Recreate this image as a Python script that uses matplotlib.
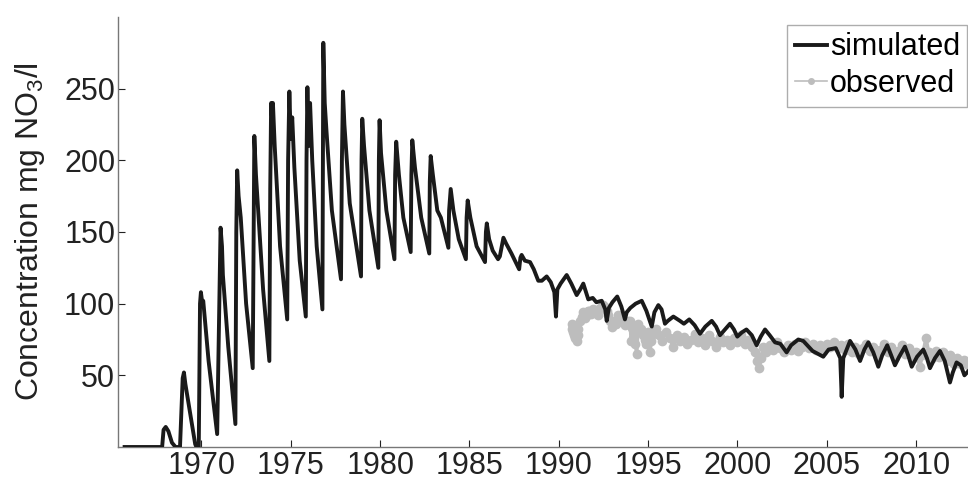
import matplotlib.pyplot as plt

plt.rcParams['font.family'] = ['Liberation Sans', 'DejaVu Sans']
plt.rcParams['mathtext.fontset'] = 'custom'
plt.rcParams['mathtext.rm'] = 'Liberation Sans'
plt.rcParams['mathtext.it'] = 'Liberation Sans'

# simulated series (year, mg NO3/l)
sim_year = [1965.7, 1967.8, 1967.88, 1968.0, 1968.15, 1968.35, 1968.55, 1968.8, 1968.95, 1969.02,
            1969.1, 1969.35, 1969.65, 1969.72, 1969.85, 1969.92, 1969.97, 1970.05, 1970.1, 1970.4,
            1970.88, 1971.0, 1971.07, 1971.15, 1971.2, 1971.5, 1971.9, 1971.95, 1972.0, 1972.08,
            1972.2, 1972.5, 1972.87, 1972.92, 1972.96, 1973.05, 1973.15, 1973.45, 1973.8, 1973.85,
            1973.9, 1973.95, 1974.0, 1974.1, 1974.4, 1974.8, 1974.85, 1974.92, 1975.0, 1975.08,
            1975.2, 1975.5, 1975.84, 1975.88, 1975.93, 1976.0, 1976.08, 1976.2, 1976.45, 1976.77,
            1976.82, 1976.9, 1977.0, 1977.3, 1977.81, 1977.86, 1977.92, 1978.0, 1978.3, 1978.93,
            1978.96, 1979.0, 1979.1, 1979.4, 1979.9, 1979.93, 1979.97, 1980.05, 1980.35, 1980.8,
            1980.84, 1980.9, 1981.05, 1981.3, 1981.71, 1981.75, 1981.8, 1981.95, 1982.3, 1982.75,
            1982.78, 1982.83, 1982.95, 1983.2, 1983.4, 1983.82, 1983.86, 1983.95, 1984.1, 1984.4,
            1984.8, 1984.84, 1984.9, 1985.05, 1985.4, 1985.87, 1985.92, 1985.97, 1986.1, 1986.3,
            1986.6, 1986.7, 1986.9, 1987.05, 1987.35, 1987.78, 1987.85, 1987.92, 1988.1, 1988.39,
            1988.6, 1988.85, 1989.05, 1989.32, 1989.55, 1989.75, 1989.84, 1989.92, 1990.1, 1990.44,
            1990.7, 1991.0, 1991.2, 1991.37, 1991.65, 1991.9, 1992.1, 1992.4, 1992.6, 1992.68,
            1992.8, 1993.0, 1993.27, 1993.5, 1993.7, 1993.8, 1994.0, 1994.3, 1994.64, 1994.9,
            1995.2, 1995.35, 1995.57, 1995.75, 1995.94, 1996.1, 1996.41, 1996.78, 1997.0, 1997.3,
            1997.6, 1997.9, 1998.2, 1998.56, 1998.8, 1999.02, 1999.3, 1999.58, 1999.8, 1999.99,
            2000.25, 2000.5, 2000.8, 2001.07, 2001.3, 2001.54, 2001.8, 2002.1, 2002.4, 2002.75,
            2003.0, 2003.4, 2003.68, 2004.2, 2004.8, 2005.1, 2005.5, 2005.75, 2005.83, 2005.92,
            2006.3, 2006.6, 2006.86, 2007.1, 2007.32, 2007.6, 2007.88, 2008.1, 2008.38, 2008.6,
            2008.81, 2009.05, 2009.37, 2009.55, 2009.75, 2010.05, 2010.4, 2010.6, 2010.77, 2011.05,
            2011.33, 2011.6, 2011.89, 2012.05, 2012.26, 2012.5, 2012.7, 2013.0]
sim_val = [0, 0, 12, 14, 11, 3, 0, 0, 48, 52,
           44, 25, 2, 0, 0, 100, 108, 100, 102, 60,
           9, 100, 153, 140, 120, 70, 16, 150, 193, 175,
           160, 100, 55, 150, 217, 190, 170, 110, 60, 180,
           240, 230, 240, 210, 140, 89, 200, 248, 215, 230,
           195, 130, 91, 200, 251, 210, 240, 200, 140, 96,
           282, 240, 220, 165, 117, 200, 248, 225, 170, 119,
           200, 229, 210, 165, 125, 200, 228, 205, 165, 131,
           190, 213, 190, 160, 136, 190, 214, 195, 160, 135,
           185, 203, 190, 165, 160, 139, 165, 180, 165, 145,
           131, 160, 172, 160, 140, 129, 150, 156, 145, 137,
           131, 133, 146, 142, 135, 124, 132, 134, 130, 129,
           124, 116, 116, 119, 115, 108, 91, 110, 114, 120,
           114, 106, 110, 114, 103, 104, 101, 102, 96, 88,
           97, 101, 105, 98, 89, 94, 97, 100, 102, 95,
           84, 94, 99, 96, 86, 88, 91, 88, 86, 89,
           85, 79, 84, 88, 84, 78, 82, 86, 82, 77,
           80, 82, 78, 71, 77, 82, 78, 73, 72, 66,
           71, 75, 74, 67, 63, 68, 69, 62, 35, 62,
           74, 68, 60, 68, 73, 66, 56, 64, 71, 64,
           57, 63, 70, 64, 56, 63, 68, 62, 55, 62,
           67, 60, 45, 52, 59, 57, 50, 54]

# observed series
obs_year = [1990.72, 1990.76, 1990.8, 1990.85, 1990.9, 1991.0, 1991.05, 1991.1, 1991.2, 1991.3,
            1991.37, 1991.45, 1991.55, 1991.62, 1991.7, 1991.8, 1991.93, 1992.0, 1992.1, 1992.2,
            1992.3, 1992.45, 1992.58, 1992.68, 1992.75, 1992.85, 1992.96, 1993.1, 1993.2, 1993.33,
            1993.5, 1993.6, 1993.7, 1993.85, 1993.98, 1994.05, 1994.12, 1994.2, 1994.28, 1994.36,
            1994.45, 1994.6, 1994.7, 1994.8, 1994.9, 1995.0, 1995.1, 1995.18, 1995.25, 1995.45,
            1995.6, 1995.8, 1996.0, 1996.2, 1996.4, 1996.6, 1996.8, 1997.0, 1997.2, 1997.4,
            1997.6, 1997.8, 1998.0, 1998.2, 1998.4, 1998.6, 1998.8, 1999.0, 1999.2, 1999.4,
            1999.6, 1999.8, 2000.0, 2000.2, 2000.4, 2000.6, 2000.8, 2001.0, 2001.1, 2001.2,
            2001.3, 2001.45, 2001.6, 2001.8, 2002.0, 2002.2, 2002.4, 2002.6, 2002.8, 2003.0,
            2003.2, 2003.4, 2003.6, 2003.8, 2004.0, 2004.2, 2004.4, 2004.6, 2004.8, 2005.0,
            2005.2, 2005.4, 2005.6, 2005.8, 2006.0, 2006.2, 2006.4, 2006.6, 2006.8, 2007.0,
            2007.2, 2007.4, 2007.6, 2007.8, 2008.0, 2008.2, 2008.4, 2008.6, 2008.8, 2009.0,
            2009.2, 2009.4, 2009.6, 2009.8, 2010.0, 2010.2, 2010.35, 2010.55, 2010.7, 2010.9,
            2011.1, 2011.3, 2011.5, 2011.7, 2011.9, 2012.1, 2012.3, 2012.5, 2012.7, 2012.9]
obs_val = [86, 82, 80, 78, 76, 74, 78, 82, 88, 91,
           94, 90, 92, 95, 95, 93, 96, 94, 95, 92,
           97, 99, 98, 95, 92, 88, 84, 88, 86, 92,
           90, 87, 85, 88, 88, 74, 83, 80, 72, 65,
           86, 82, 78, 75, 72, 80, 66, 74, 79, 82,
           78, 74, 80, 76, 70, 78, 74, 77, 72, 75,
           79, 73, 76, 71, 78, 74, 70, 77, 73, 75,
           71, 76, 73, 78, 72, 75, 70, 66, 60, 55,
           62, 70, 66, 71, 68, 73, 69, 66, 71, 68,
           72, 67, 70, 73, 69, 72, 68, 71, 67, 72,
           70, 73, 69, 71, 68, 72, 66, 70, 65, 69,
           72, 67, 70, 64, 68, 72, 66, 70, 63, 67,
           71, 65, 69, 62, 66, 56, 64, 76, 66, 62,
           67, 63, 66, 60, 64, 58, 62, 58, 61, 57]

xticks = [1970, 1975, 1980, 1985, 1990, 1995, 2000, 2005, 2010]
yticks = [50, 100, 150, 200, 250]

fig = plt.figure(figsize=(9.68, 4.84), dpi=100)
ax = fig.add_axes([118/968, 37/484, 850/968, 430/484])

ax.plot(obs_year, obs_val, color='#bdbdbd', lw=2.5, marker='o', ms=6,
        mec='#bdbdbd', mfc='#bdbdbd', label='observed', zorder=2)
ax.plot(sim_year, sim_val, color='#1a1a1a', lw=2.8, label='simulated', zorder=3)

ax.set_xlim(1965.33, 2012.9)
ax.set_ylim(0, 300)
ax.set_xticks(xticks)
ax.set_yticks(yticks)
ax.tick_params(direction='in', length=5, width=0.8, labelsize=22, pad=3, colors='#222222')
ax.tick_params(axis='y', pad=2)
for s in ['top', 'right']:
    ax.spines[s].set_visible(False)
for s in ['left', 'bottom']:
    ax.spines[s].set_color('#777777')
    ax.spines[s].set_linewidth(1.0)

ax.set_ylabel('Concentration mg NO$_3$/l', fontsize=23, color='#222222')
ax.yaxis.set_label_coords(-0.083, 0.5)

h, l = ax.get_legend_handles_labels()
leg = ax.legend(h[::-1], l[::-1], loc='upper left', bbox_to_anchor=(0.787, 0.982),
                fontsize=22, frameon=True, fancybox=False, borderpad=0.25,
                labelspacing=0.22, handlelength=1.05, handletextpad=0.1, borderaxespad=0)
leg.legend_handles[1].set_linewidth(1.2)
leg.legend_handles[1].set_markersize(4)
leg.get_frame().set_edgecolor('#999999')
leg.get_frame().set_linewidth(1.0)

fig.savefig('out.png', dpi=100)
